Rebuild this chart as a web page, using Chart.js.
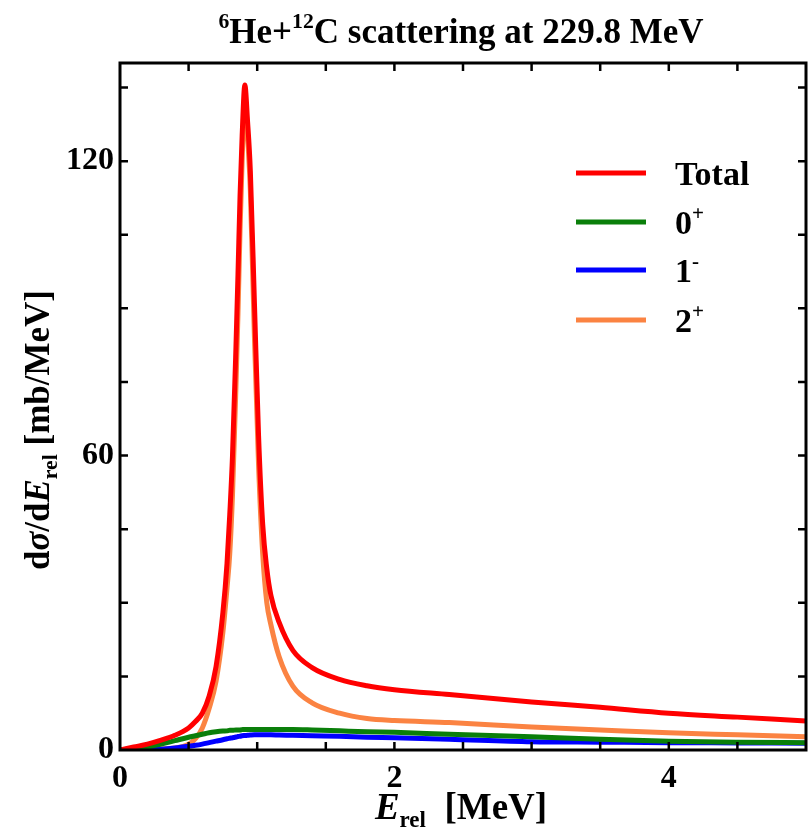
<!DOCTYPE html>
<html>
<head>
<meta charset="utf-8">
<script src="https://cdn.jsdelivr.net/npm/chart.js@4.4.1/dist/chart.umd.min.js"></script>
<style>
  html, body { margin: 0; padding: 0; background: #fff; }
  canvas { display: block; }
</style>
</head>
<body>
<canvas id="xs-chart" width="808" height="831"></canvas>
<script>
// =============================================================================
// DATA
// =============================================================================

// relative energy grid [MeV]
const energy = [0, 0.1, 0.2, 0.3, 0.4, 0.5, 0.55, 0.6, 0.65, 0.7,
  0.75, 0.78, 0.8, 0.82, 0.845, 0.86, 0.875, 0.89, 0.91, 0.93,
  0.95, 0.98, 1.01, 1.04, 1.07, 1.1, 1.16, 1.26, 1.4, 1.6,
  1.8, 2.0, 2.4, 3.0, 3.5, 4.0, 4.5, 5.0];

// dsigma/dE_rel [mb/MeV]
const xsTotal = [0, 0.6, 1.2, 2.0, 3.0, 4.5, 5.8, 7.5, 11, 17,
  28, 38, 48, 60, 82, 97, 113, 125, 135.5, 128,
  118, 91, 64, 46, 37, 31.5, 26, 20.3, 16.8, 14.4,
  13.1, 12.3, 11.3, 9.8, 8.7, 7.5, 6.7, 5.9];
const xs0plus = [0, 0.3, 0.6, 1.2, 1.9, 2.6, 2.9, 3.2, 3.5, 3.7,
  3.85, 3.9, 4.0, 4.0, 4.1, 4.1, 4.1, 4.15, 4.2, 4.2,
  4.2, 4.2, 4.2, 4.2, 4.2, 4.2, 4.2, 4.2, 4.1, 3.9,
  3.7, 3.6, 3.2, 2.7, 2.2, 1.8, 1.6, 1.5];
const xs1minus = [0, 0, 0.05, 0.15, 0.4, 0.75, 0.95, 1.2, 1.5, 1.8,
  2.1, 2.3, 2.4, 2.5, 2.65, 2.75, 2.8, 2.9, 2.95, 3.0,
  3.05, 3.1, 3.1, 3.1, 3.1, 3.1, 3.05, 3.0, 2.9, 2.8,
  2.6, 2.5, 2.2, 1.7, 1.6, 1.5, 1.45, 1.4];
const xs2plus = [0, 0, 0.1, 0.2, 0.4, 1.2, 2.3, 4.5, 8.5, 14,
  24, 33, 40, 52, 74, 89, 106, 120, 133, 125,
  114, 84, 58, 40, 30, 25.5, 19, 13, 9.6, 7.5,
  6.4, 6.0, 5.6, 4.7, 4.1, 3.5, 3.1, 2.7];

const seriesNames = ['Total', '0', '1', '2'];
const seriesSups = ['', '+', '-', '+'];

// axis ticks
const xLabelTicks = [0, 2, 4];
const xMarkTicks = [0.5, 1, 1.5, 2, 2.5, 3, 3.5, 4, 4.5];
const yLabelTicks = [0, 60, 120];
const yMarkTicks = [15, 30, 45, 60, 75, 90, 105, 120, 135];

// =============================================================================
// STYLE
// =============================================================================

const FONT = '"Liberation Serif", "Times New Roman", serif';
const COLORS = ['#ff0000', '#0a7f0a', '#0000ff', '#fb8342'];

function toPoints(values) {
  return energy.map((e, i) => ({ x: e, y: values[i] }));
}

// draw a run of text pieces: {t, it, pos:'sup'|'sub'}
function richWidth(ctx, parts, size) {
  let w = 0;
  parts.forEach(p => {
    const s = p.pos ? size * 0.62 : size;
    ctx.font = (p.it ? 'italic ' : '') + 'bold ' + s + 'px ' + FONT;
    w += ctx.measureText(p.t).width;
  });
  return w;
}

function drawRich(ctx, parts, x, y, size, align) {
  const w = richWidth(ctx, parts, size);
  let cx = align === 'center' ? x - w / 2 : (align === 'right' ? x - w : x);
  ctx.textAlign = 'left';
  ctx.textBaseline = 'alphabetic';
  ctx.fillStyle = '#000';
  parts.forEach(p => {
    const s = p.pos ? size * 0.62 : size;
    ctx.font = (p.it ? 'italic ' : '') + 'bold ' + s + 'px ' + FONT;
    let dy = 0;
    if (p.pos === 'sup') dy = -size * 0.42;
    if (p.pos === 'sub') dy = size * 0.22;
    ctx.fillText(p.t, cx, y + dy);
    cx += ctx.measureText(p.t).width;
  });
}

// =============================================================================
// FRAME, TICKS, LABELS, LEGEND
// =============================================================================

const framePlugin = {
  id: 'frame',
  afterDraw(chart) {
    const ctx = chart.ctx;
    const a = chart.chartArea;
    const xs = chart.scales.x;
    const ys = chart.scales.y;
    ctx.save();

    // inward ticks on all four sides
    ctx.strokeStyle = '#000';
    ctx.lineWidth = 2.5;
    const tl = 8;
    ctx.beginPath();
    xMarkTicks.forEach(v => {
      const px = xs.getPixelForValue(v);
      ctx.moveTo(px, a.bottom); ctx.lineTo(px, a.bottom - tl);
      ctx.moveTo(px, a.top); ctx.lineTo(px, a.top + tl);
    });
    yMarkTicks.forEach(v => {
      const py = ys.getPixelForValue(v);
      ctx.moveTo(a.left, py); ctx.lineTo(a.left + tl, py);
      ctx.moveTo(a.right, py); ctx.lineTo(a.right - tl, py);
    });
    ctx.stroke();

    // frame
    ctx.lineWidth = 3;
    ctx.strokeRect(a.left, a.top, a.right - a.left, a.bottom - a.top);

    // title
    drawRich(ctx, [
      { t: '6', pos: 'sup' }, { t: 'He+' }, { t: '12', pos: 'sup' },
      { t: 'C scattering at 229.8 MeV' }
    ], 461, 43, 35, 'center');

    // x axis title
    drawRich(ctx, [
      { t: 'E', it: true }, { t: 'rel', pos: 'sub' }, { t: '  [MeV]' }
    ], 461, 819, 37, 'center');

    // y axis title (rotated)
    ctx.save();
    ctx.translate(49, 430);
    ctx.rotate(-Math.PI / 2);
    drawRich(ctx, [
      { t: 'd' }, { t: 'σ', it: true }, { t: '/d' }, { t: 'E', it: true },
      { t: 'rel', pos: 'sub' }, { t: ' [mb/MeV]' }
    ], 0, 0, 35, 'center');
    ctx.restore();

    // legend
    const rowY = [173, 222, 270, 320];
    chart.data.datasets.forEach((ds, i) => {
      ctx.strokeStyle = ds.borderColor;
      ctx.lineWidth = 5;
      ctx.beginPath();
      ctx.moveTo(576, rowY[i]);
      ctx.lineTo(646, rowY[i]);
      ctx.stroke();
      const parts = [{ t: seriesNames[i] }];
      if (seriesSups[i]) parts.push({ t: seriesSups[i], pos: 'sup' });
      drawRich(ctx, parts, 675, rowY[i] + 12, 34, 'left');
    });

    ctx.restore();
  }
};

// =============================================================================
// CHART
// =============================================================================

const seriesValues = [xsTotal, xs0plus, xs1minus, xs2plus];

new Chart(document.getElementById('xs-chart').getContext('2d'), {
  type: 'line',
  data: {
    datasets: seriesValues.map((vals, i) => ({
      label: seriesNames[i] + seriesSups[i],
      data: toPoints(vals),
      borderColor: COLORS[i],
      backgroundColor: COLORS[i],
      borderWidth: 5,
      pointRadius: 0,
      fill: false,
      cubicInterpolationMode: 'monotone'
    }))
  },
  options: {
    responsive: false,
    animation: false,
    layout: { padding: { top: 63, right: 2, left: 0, bottom: 0 } },
    plugins: {
      legend: { display: false },
      tooltip: { enabled: false },
      title: { display: false }
    },
    scales: {
      x: {
        type: 'linear',
        min: 0,
        max: 5,
        afterBuildTicks: (s) => { s.ticks = xLabelTicks.map(v => ({ value: v })); },
        afterFit: (s) => { s.height = 81; },
        grid: { display: false, drawTicks: false },
        border: { display: false },
        ticks: {
          color: '#000',
          padding: 10,
          maxRotation: 0,
          autoSkip: false,
          font: { family: FONT, size: 32, weight: 'bold' }
        }
      },
      y: {
        type: 'linear',
        min: 0,
        max: 140,
        afterBuildTicks: (s) => { s.ticks = yLabelTicks.map(v => ({ value: v })); },
        afterFit: (s) => { s.width = 120; },
        grid: { display: false, drawTicks: false },
        border: { display: false },
        ticks: {
          color: '#000',
          padding: 6,
          autoSkip: false,
          font: { family: FONT, size: 32, weight: 'bold' }
        }
      }
    }
  },
  plugins: [framePlugin]
});
</script>
</body>
</html>
